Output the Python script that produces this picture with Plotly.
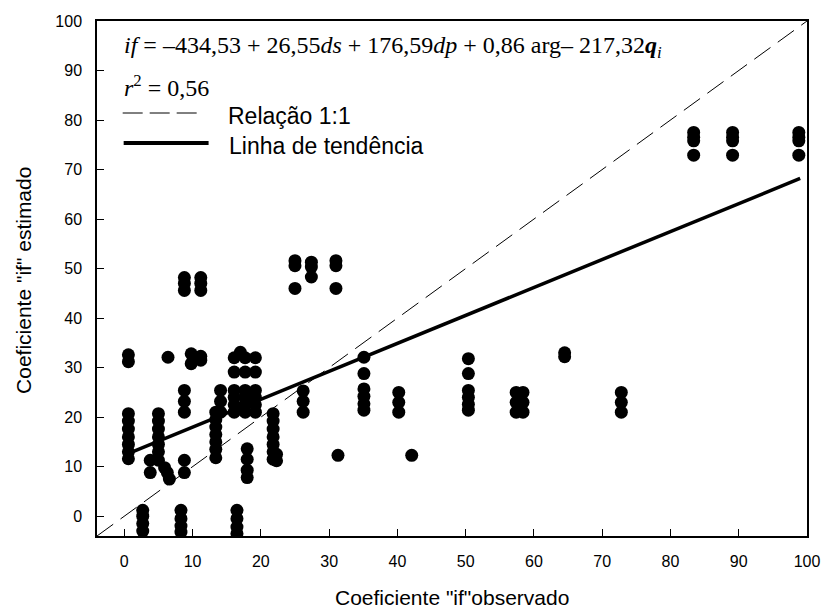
import plotly.graph_objects as go

# Observed "if" coefficient for each column of points, and the estimated values stacked at it
obs_cols = [0.6, 2.7, 3.8, 5.0, 5.9, 6.3, 6.6, 6.4, 8.3, 8.8, 9.8, 10.3, 11.2,
            13.4, 14.1, 16.1, 16.5, 17.0, 17.7, 18.0, 19.2, 21.8, 22.3,
            25.0, 26.2, 27.4, 31.0, 31.3, 35.1, 40.2, 42.1, 50.4, 57.4, 58.4,
            64.5, 72.8, 83.4, 89.1, 98.8]
est_cols = [
    [32.6, 31.2, 20.7, 19.2, 17.6, 16.0, 14.5, 13.0, 11.6],
    [1.2, 0.0, -1.5, -3.0],
    [11.3, 8.8],
    [20.7, 19.2, 17.6, 16.0, 14.5, 13.0, 11.3],
    [9.8],
    [8.8],
    [7.5],
    [32.1],
    [1.2, -0.5, -2.0, -3.2],
    [48.2, 47.0, 45.6, 25.4, 23.2, 21.0, 11.3, 8.8],
    [32.8, 30.8],
    [31.8],
    [48.2, 47.0, 45.6, 32.3, 31.5],
    [21.0, 19.5, 18.0, 16.5, 15.0, 13.5, 11.8],
    [25.4, 23.2, 21.0],
    [32.0, 29.1, 25.4, 24.0, 22.5, 21.0],
    [1.2, -0.5, -2.2, -3.5],
    [33.1],
    [32.0, 29.1, 25.4, 24.0, 22.5, 21.0],
    [13.6, 11.5, 9.3, 7.8],
    [32.0, 29.1, 25.4, 24.0, 22.5, 21.0],
    [20.7, 19.2, 17.6, 16.0, 14.5, 13.0, 11.5],
    [12.5, 11.2],
    [51.6, 50.6, 46.0],
    [25.3, 23.2, 21.0],
    [51.3, 50.3, 48.3],
    [51.6, 50.6, 46.0],
    [12.3],
    [32.1, 28.8, 25.7, 24.2, 22.7, 21.4],
    [25.0, 23.0, 21.0],
    [12.3],
    [31.8, 28.8, 25.4, 24.0, 22.6, 21.4],
    [25.0, 23.0, 21.0],
    [25.0, 23.0, 21.0],
    [33.0, 32.2],
    [25.0, 23.0, 21.0],
    [77.5, 76.5, 75.8, 72.9],
    [77.5, 76.5, 75.8, 72.9],
    [77.5, 76.5, 75.8, 72.9],
]

# 1:1 reference line and fitted trend line
ref_line = [-4, 100]
trend_x = [1.0, 99.0]
trend_y = [12.9, 68.2]

tick_vals = [0, 10, 20, 30, 40, 50, 60, 70, 80, 90, 100]

obs = []
est = []
for xv, ys in zip(obs_cols, est_cols):
    for yv in ys:
        obs.append(xv)
        est.append(yv)

W, H = 832, 609
L, R, T, B = 97, 16, 21, 73
PW, PH = W - L - R, H - T - B


def px(xp):
    return (xp - L) / PW


def py(yp):
    return (H - B - yp) / PH


fig = go.Figure()
fig.add_trace(go.Scatter(x=ref_line, y=ref_line, mode="lines",
                         line=dict(color="black", width=1, dash="20px,9px"),
                         hoverinfo="skip"))
fig.add_trace(go.Scatter(x=obs, y=est, mode="markers",
                         marker=dict(color="black", size=13)))
fig.add_trace(go.Scatter(x=trend_x, y=trend_y, mode="lines",
                         line=dict(color="black", width=3.5)))

sans = "Liberation Sans, Arial, sans-serif"
serif = "Liberation Serif, Times New Roman, serif"

axis_common = dict(
    showgrid=False, zeroline=False, showline=True, linecolor="black",
    linewidth=1.5, mirror=True, ticks="inside", ticklen=7, tickwidth=1,
    tickcolor="black", tickvals=tick_vals,
    tickfont=dict(family=sans, size=16, color="black"),
)
fig.update_xaxes(range=[-4, 100], ticklabelstandoff=10, **axis_common)
fig.update_yaxes(range=[-4, 100], ticklabelstandoff=10, **axis_common)

annotations = [
    dict(text="Coeficiente \"if\"observado", x=px(456), y=py(597),
         font=dict(family=sans, size=21)),
    dict(text="Coeficiente \"if\" estimado", x=px(22), y=py(280),
         textangle=-90, font=dict(family=sans, size=21)),
    dict(text="<i>if</i> = \u2013434,53 + 26,55<i>ds</i> + 176,59<i>dp</i> + 0,86 arg\u2013 217,32<b><i>q</i></b><sub><i>i</i></sub>",
         x=px(122), y=py(47), xanchor="left", font=dict(family=serif, size=24)),
    dict(text="<i>r</i><sup>2</sup> = 0,56", x=px(122), y=py(86), xanchor="left",
         font=dict(family=serif, size=24)),
    dict(text="Relação 1:1", x=px(228), y=py(116), xanchor="left",
         font=dict(family=sans, size=23)),
    dict(text="Linha de tendência", x=px(229), y=py(146), xanchor="left",
         font=dict(family=sans, size=23)),
]
for a in annotations:
    a.setdefault("xanchor", "center")
    a.update(xref="paper", yref="paper", yanchor="middle", showarrow=False)
    a["font"]["color"] = "black"
fig.update_layout(annotations=annotations)

fig.add_shape(type="line", xref="paper", yref="paper", x0=px(123), x1=px(198),
              y0=py(113), y1=py(113), line=dict(color="black", width=1, dash="20px,7px"))
fig.add_shape(type="line", xref="paper", yref="paper", x0=px(124), x1=px(210),
              y0=py(143), y1=py(143), line=dict(color="black", width=4))

fig.update_layout(
    width=W, height=H, showlegend=False,
    margin=dict(l=L, r=R, t=T, b=B),
    paper_bgcolor="white", plot_bgcolor="white",
)

fig.write_html("out.html")
